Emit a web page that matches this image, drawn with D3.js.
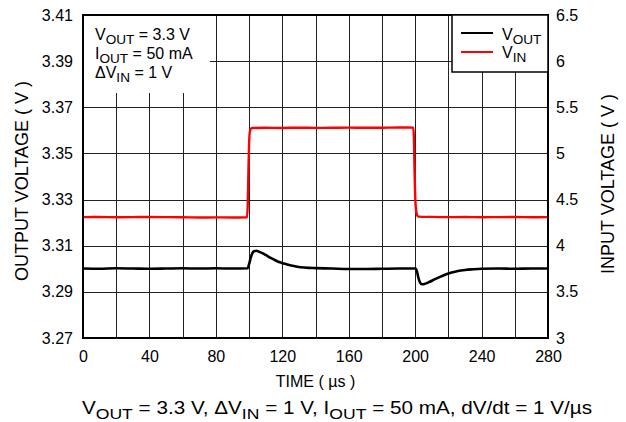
<!DOCTYPE html>
<html>
<head>
<meta charset="utf-8">
<script src="https://cdn.jsdelivr.net/npm/d3@7"></script>
<style>
body { margin: 0; background: #fff; }
text { font-family: "Liberation Sans", Arial, sans-serif; fill: #000; }
</style>
</head>
<body>
<div id="chart"></div>
<script>
// data
var xTicks = [0, 40, 80, 120, 160, 200, 240, 280];
var leftTicks = [3.27, 3.29, 3.31, 3.33, 3.35, 3.37, 3.39, 3.41];
var rightTicks = [3, 3.5, 4, 4.5, 5, 5.5, 6, 6.5];

var vinTime = [0, 10, 20, 30, 40, 50, 60, 70, 80, 90,
  98.8, 99.2, 99.6, 100.0, 100.5, 101.2, 102,
  110, 120, 130, 140, 150, 160, 170, 180, 190,
  198.8, 199.2, 199.6, 200.0, 200.6, 201.3, 202,
  210, 220, 230, 240, 250, 260, 270, 280];
var vinVolts = [4.310, 4.311, 4.309, 4.310, 4.311, 4.310, 4.309, 4.306, 4.307, 4.306,
  4.307, 4.45, 4.80, 5.10, 5.24, 5.27, 5.275,
  5.278, 5.276, 5.279, 5.277, 5.278, 5.280, 5.278, 5.279, 5.281,
  5.280, 5.20, 4.85, 4.55, 4.38, 4.325, 4.315,
  4.312, 4.310, 4.311, 4.309, 4.310, 4.311, 4.309, 4.310];

var voutTime = [0, 10, 20, 30, 40, 50, 60, 70, 80, 90,
  99, 100, 101, 102, 103, 104.5, 106, 108, 110,
  113, 116, 119, 123, 127, 131, 136, 140,
  150, 160, 170, 180, 190,
  200.3, 201.2, 202, 203, 204, 205.5, 208, 212, 216, 220,
  225, 230, 235, 240, 250, 260, 270, 280];
var voutVolts = [3.3001, 3.3000, 3.3002, 3.3001, 3.3000, 3.3001, 3.3002, 3.3001, 3.3002, 3.3001,
  3.3002, 3.3020, 3.3048, 3.3068, 3.3076, 3.3078, 3.3074, 3.3068, 3.3060,
  3.3047, 3.3036, 3.3027, 3.3019, 3.3012, 3.3007, 3.3004, 3.3003,
  3.3001, 3.2999, 3.2999, 3.3000, 3.3001,
  3.3001, 3.2985, 3.2960, 3.2940, 3.2933, 3.2934, 3.2941, 3.2955, 3.2968, 3.2980,
  3.2989, 3.2995, 3.2998, 3.3000, 3.3001, 3.3000, 3.3001, 3.3001];

var margin = {top: 15, right: 78, bottom: 84, left: 83},
  width = 626 - margin.left - margin.right,
  height = 422 - margin.top - margin.bottom;

var x = d3.scaleLinear().domain([0, 280]).range([0, width]);
var yOut = d3.scaleLinear().domain([3.27, 3.41]).range([height, 0]);
var yIn = d3.scaleLinear().domain([3, 6.5]).range([height, 0]);

var svg = d3.select("#chart").append("svg")
  .attr("width", 626)
  .attr("height", 422);
var g = svg.append("g")
  .attr("transform", "translate(" + margin.left + "," + margin.top + ")");

// grid: vertical every 20 us, horizontal at each left tick
g.append("g")
  .attr("transform", "translate(0," + height + ")")
  .call(d3.axisBottom(x).ticks(14).tickSize(-height).tickFormat(""))
  .call(function(s) { s.select(".domain").remove(); })
  .selectAll("line").attr("stroke", "#222").attr("shape-rendering", "crispEdges");
g.append("g")
  .call(d3.axisLeft(yOut).tickValues(leftTicks).tickSize(-width).tickFormat(""))
  .call(function(s) { s.select(".domain").remove(); })
  .selectAll("line").attr("stroke", "#222").attr("shape-rendering", "crispEdges");

// white patch behind the conditions text
g.append("rect").attr("x", 1).attr("y", 1).attr("width", 126).attr("height", 77).attr("fill", "#fff");

// tick labels
var xAxis = g.append("g")
  .attr("transform", "translate(0," + height + ")")
  .call(d3.axisBottom(x).tickValues(xTicks).tickSize(0).tickPadding(13).tickFormat(d3.format("d")));
var yAxisL = g.append("g")
  .call(d3.axisLeft(yOut).tickValues(leftTicks).tickSize(0).tickPadding(10).tickFormat(d3.format(".2f")));
var yAxisR = g.append("g")
  .attr("transform", "translate(" + width + ",0)")
  .call(d3.axisRight(yIn).tickValues(rightTicks).tickSize(0).tickPadding(8).tickFormat(d3.format("")));
[xAxis, yAxisL, yAxisR].forEach(function(a) {
  a.select(".domain").remove();
  a.selectAll("text").style("font-size", "16px").style("font-family", "'Liberation Sans', Arial, sans-serif").attr("fill", "#000");
});

// traces
var vinData = vinTime.map(function(t, i) { return {t: t, v: vinVolts[i]}; });
var voutData = voutTime.map(function(t, i) { return {t: t, v: voutVolts[i]}; });

var vinLine = d3.line()
  .x(function(d) { return x(d.t); })
  .y(function(d) { return yIn(d.v); })
  .curve(d3.curveMonotoneX);
var voutLine = d3.line()
  .x(function(d) { return x(d.t); })
  .y(function(d) { return yOut(d.v); })
  .curve(d3.curveMonotoneX);

g.append("path").datum(vinData)
  .attr("fill", "none").attr("stroke", "#ff0000").attr("stroke-width", 2.4)
  .attr("d", vinLine);
g.append("path").datum(voutData)
  .attr("fill", "none").attr("stroke", "#000").attr("stroke-width", 2.6)
  .attr("d", voutLine);

// frame
g.append("rect").attr("width", width).attr("height", height)
  .attr("fill", "none").attr("stroke", "#000").attr("stroke-width", 2);

// text with subscripts: the shift back up goes on the next piece
function subText(sel, parts, size) {
  var shift = size * 0.25, back = 0;
  parts.forEach(function(p) {
    var ts = sel.append("tspan").text(p[0]);
    if (p[1]) {
      ts.attr("dy", shift).style("font-size", (size * 0.85) + "px");
      back = -shift;
    } else if (back) {
      ts.attr("dy", back);
      back = 0;
    }
  });
}

// conditions
var cond = [
  [["V"], ["OUT", 1], [" = 3.3 V"]],
  [["I"], ["OUT", 1], [" = 50 mA"]],
  [["\u0394V"], ["IN", 1], [" = 1 V"]]
];
cond.forEach(function(c, i) {
  var t = g.append("text").attr("x", 12).attr("y", 25 + i * 19).style("font-size", "16px");
  subText(t, c, 16);
});

// legend
var legend = g.append("g").attr("transform", "translate(" + (width - 96) + ",0)");
legend.append("rect").attr("width", 96).attr("height", 57)
  .attr("fill", "#fff").attr("stroke", "#000").attr("stroke-width", 1.5);
var legendItems = [
  {name: [["V"], ["OUT", 1]], color: "#000"},
  {name: [["V"], ["IN", 1]], color: "#ff0000"}
];
legendItems.forEach(function(d, i) {
  legend.append("line").attr("x1", 9).attr("x2", 41).attr("y1", 18 + i * 19).attr("y2", 18 + i * 19)
    .attr("stroke", d.color).attr("stroke-width", 2);
  var t = legend.append("text").attr("x", 50).attr("y", 25 + i * 18).style("font-size", "16px");
  subText(t, d.name, 16);
});

// axis titles
g.append("text")
  .attr("transform", "rotate(-90)")
  .attr("x", -166).attr("y", -55)
  .style("text-anchor", "middle").style("font-size", "18px")
  .text("OUTPUT VOLTAGE ( V )");
g.append("text")
  .attr("transform", "rotate(-90)")
  .attr("x", -169).attr("y", width + 66)
  .style("text-anchor", "middle").style("font-size", "18px")
  .text("INPUT VOLTAGE ( V )");
g.append("text")
  .attr("x", x(140)).attr("y", height + 49)
  .style("text-anchor", "middle").style("font-size", "16px")
  .text("TIME ( \u00b5s )");

// caption
var cap = svg.append("text")
  .attr("x", 337).attr("y", 414)
  .attr("textLength", 510).attr("lengthAdjust", "spacingAndGlyphs")
  .style("text-anchor", "middle").style("font-size", "18px");
subText(cap, [["V"], ["OUT", 1], [" = 3.3 V, \u0394V"], ["IN", 1], [" = 1 V, I"], ["OUT", 1], [" = 50 mA, dV/dt = 1 V/\u00b5s"]], 18);
</script>
</body>
</html>
